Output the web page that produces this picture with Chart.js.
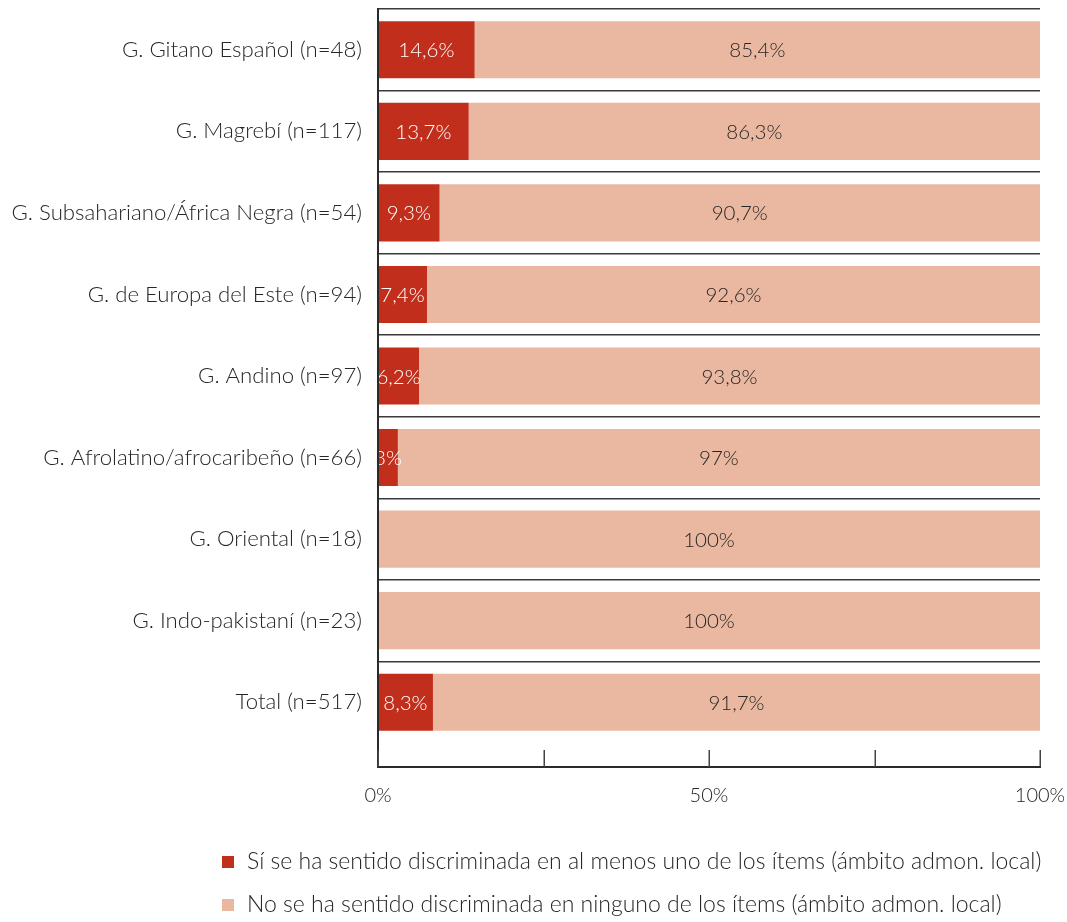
<!DOCTYPE html>
<html>
<head>
<meta charset="utf-8">
<script src="https://cdn.jsdelivr.net/npm/chart.js@4.4.1/dist/chart.umd.min.js"></script>
<style>
  html, body { margin: 0; padding: 0; background: #ffffff; }
  #wrap { width: 1067px; height: 922px; position: relative; }
</style>
</head>
<body>
<div id="wrap"><canvas id="c"></canvas></div>
<script>
const categories = [
  'G. Gitano Español (n=48)',
  'G. Magrebí (n=117)',
  'G. Subsahariano/África Negra (n=54)',
  'G. de Europa del Este (n=94)',
  'G. Andino (n=97)',
  'G. Afrolatino/afrocaribeño (n=66)',
  'G. Oriental (n=18)',
  'G. Indo-pakistaní (n=23)',
  'Total (n=517)'
];
const siValues = [14.6, 13.7, 9.3, 7.4, 6.2, 3, 0, 0, 8.3];
const noValues = [85.4, 86.3, 90.7, 92.6, 93.8, 97, 100, 100, 91.7];
const seriesNames = [
  'Sí se ha sentido discriminada en al menos uno de los ítems (ámbito admon. local)',
  'No se ha sentido discriminada en ninguno de los ítems (ámbito admon. local)'
];
const xTickValues = [0, 25, 50, 75, 100];
const xTickLabelsShown = [0, 50, 100];

const FONT = 'Lato, "Open Sans", sans-serif';
const WEIGHT = '300';
const TEXT = '#262626';
const COLORS = ['#C22E1C', '#EAB8A0'];
const LABEL_COLORS = ['#ffffff', '#262626'];

const fmt = v => String(v).replace('.', ',') + '%';

const decoPlugin = {
  id: 'deco',
  afterDatasetsDraw(chart) {
    const { ctx, chartArea, scales } = chart;
    const x = scales.x;
    ctx.save();
    ctx.font = WEIGHT + ' 20.5px ' + FONT;
    ctx.textAlign = 'center';
    ctx.textBaseline = 'middle';
    chart.data.datasets.forEach((ds, di) => {
      const meta = chart.getDatasetMeta(di);
      meta.data.forEach((el, i) => {
        const v = ds.data[i];
        if (!v) return;
        ctx.fillStyle = LABEL_COLORS[di];
        ctx.fillText(fmt(v), (el.x + el.base) / 2, el.y + 1);
      });
    });
    ctx.restore();
    const axisY = chartArea.bottom + 24;
    ctx.save();
    ctx.strokeStyle = '#2a2a2a';
    ctx.lineWidth = 2;
    ctx.beginPath();
    ctx.moveTo(chartArea.left, chartArea.top - 1);
    ctx.lineTo(chartArea.left, axisY);
    ctx.lineTo(chartArea.right + 1, axisY);
    ctx.stroke();
    ctx.lineWidth = 1.5;
    ctx.strokeStyle = '#444444';
    xTickValues.forEach(t => {
      const px = Math.round(x.getPixelForValue(t)) + 0.25;
      ctx.beginPath();
      ctx.moveTo(px, axisY);
      ctx.lineTo(px, axisY - 17);
      ctx.stroke();
    });
    ctx.restore();
  },
  afterDraw(chart) {
    const { ctx } = chart;
    ctx.save();
    ctx.font = WEIGHT + ' 23px ' + FONT;
    ctx.textBaseline = 'middle';
    ctx.textAlign = 'left';
    const rows = [862, 905];
    seriesNames.forEach((name, i) => {
      ctx.fillStyle = COLORS[i];
      ctx.fillRect(222, rows[i] - 6, 12, 12);
      ctx.fillStyle = TEXT;
      ctx.fillText(name, 247, rows[i]);
    });
    ctx.restore();
  }
};

new Chart(document.getElementById('c'), {
  type: 'bar',
  data: {
    labels: categories,
    datasets: [
      { label: seriesNames[0], data: siValues, backgroundColor: COLORS[0], borderWidth: 0 },
      { label: seriesNames[1], data: noValues, backgroundColor: COLORS[1], borderWidth: 0 }
    ]
  },
  options: {
    indexAxis: 'y',
    responsive: true,
    maintainAspectRatio: false,
    animation: false,
    barPercentage: 0.7,
    categoryPercentage: 1,
    layout: { padding: { left: 0, right: 27, top: 9, bottom: 99 } },
    plugins: {
      legend: { display: false },
      tooltip: { enabled: false }
    },
    scales: {
      x: {
        stacked: true,
        min: 0,
        max: 100,
        grid: { display: false, drawTicks: false },
        border: { display: false },
        afterFit(scale) {
          scale.height = 80;
          scale.paddingLeft = 0; scale.paddingRight = 0;
          scale.paddingTop = 0; scale.paddingBottom = 0;
        },
        afterBuildTicks(scale) { scale.ticks = xTickValues.map(v => ({ value: v })); },
        ticks: {
          autoSkip: false,
          maxRotation: 0,
          padding: 41,
          color: TEXT,
          font: { family: FONT, size: 20, weight: WEIGHT },
          callback: v => xTickLabelsShown.includes(v) ? v + '%' : ''
        }
      },
      y: {
        stacked: true,
        grid: {
          offset: true,
          drawTicks: false,
          lineWidth: 1.5,
          color: c => c.type === 'tick' ? '#3a3a3a' : 'rgba(0,0,0,0)'
        },
        border: { display: false },
        afterFit(scale) {
          scale.width = 378;
          scale.paddingLeft = 0; scale.paddingRight = 0;
          scale.paddingTop = 0; scale.paddingBottom = 0;
        },
        ticks: {
          padding: 16,
          color: TEXT,
          font: { family: FONT, size: 22.2, weight: WEIGHT }
        }
      }
    }
  },
  plugins: [decoPlugin]
});
</script>
</body>
</html>
